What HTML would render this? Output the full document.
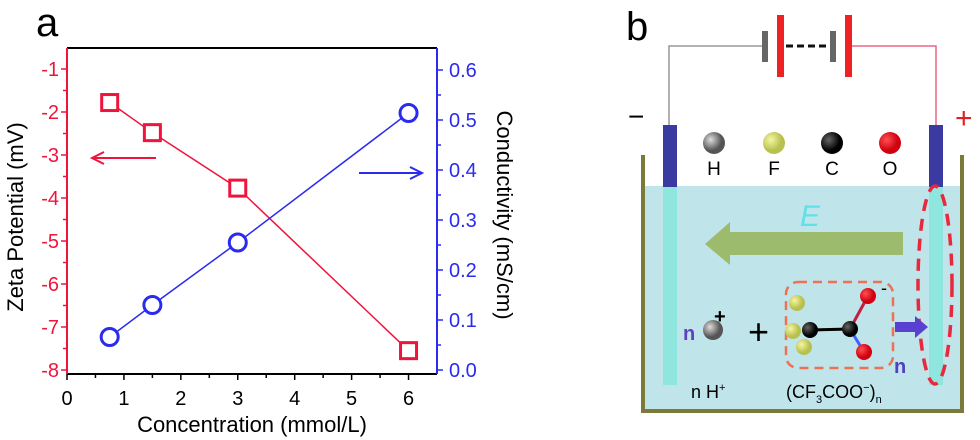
<!DOCTYPE html>
<html><head><meta charset="utf-8"><style>
html,body{margin:0;padding:0;background:#fff;}
svg{display:block;font-family:"Liberation Sans",sans-serif;}
</style></head><body>
<svg width="980" height="440" viewBox="0 0 980 440" xmlns="http://www.w3.org/2000/svg">
<defs>
<radialGradient id="gH" cx="35%" cy="35%"><stop offset="0" stop-color="#ddd"/><stop offset="1" stop-color="#555"/></radialGradient>
<radialGradient id="gF" cx="35%" cy="35%"><stop offset="0" stop-color="#f4f7a0"/><stop offset="1" stop-color="#b8c050"/></radialGradient>
<radialGradient id="gC" cx="35%" cy="35%"><stop offset="0" stop-color="#666"/><stop offset="1" stop-color="#000"/></radialGradient>
<radialGradient id="gO" cx="35%" cy="35%"><stop offset="0" stop-color="#ff5050"/><stop offset="1" stop-color="#d00010"/></radialGradient>
</defs>
<text x="36" y="36" font-size="40" fill="#000">a</text>
<g id="chart"></g>

<g>
<text x="626" y="40" font-size="40" fill="#000">b</text>
<rect x="645" y="186" width="316" height="225" fill="#bfe4ea"/>
<path d="M643 155 V411 H962 V155" fill="none" stroke="#7c7a38" stroke-width="4"/>
<polyline points="669,125 669,46 762,46" fill="none" stroke="#999" stroke-width="1.5"/>
<polyline points="852,46 936,46 936,125" fill="none" stroke="#ee6688" stroke-width="1.5"/>
<rect x="762" y="31" width="6" height="31" fill="#666"/>
<rect x="777" y="15" width="7" height="62" fill="#ee2222"/>
<line x1="786" y1="46" x2="830" y2="46" stroke="#111" stroke-width="3" stroke-dasharray="7,4"/>
<rect x="830" y="31" width="6" height="31" fill="#666"/>
<rect x="845" y="15" width="7" height="62" fill="#ee2222"/>
<rect x="663" y="125" width="14" height="62" fill="#3a3aa0"/>
<rect x="663" y="187" width="14" height="198" fill="#8ee6de"/>
<rect x="929" y="125" width="14" height="62" fill="#3a3aa0"/>
<rect x="929" y="187" width="14" height="198" fill="#8ee6de"/>
<text x="628" y="126" font-size="28" fill="#000">−</text>
<text x="955" y="128" font-size="30" fill="#e02020">+</text>
<circle cx="714" cy="143" r="11" fill="url(#gH)"/>
<circle cx="774" cy="143" r="11" fill="url(#gF)"/>
<circle cx="832" cy="143" r="11" fill="url(#gC)"/>
<circle cx="890" cy="143" r="11" fill="url(#gO)"/>
<text x="714" y="175" font-size="19" text-anchor="middle">H</text>
<text x="774" y="175" font-size="19" text-anchor="middle">F</text>
<text x="832" y="175" font-size="19" text-anchor="middle">C</text>
<text x="890" y="175" font-size="19" text-anchor="middle">O</text>
<polygon points="903,232 730,232 730,222 705,244 730,265 730,255 903,255" fill="#9cbb6c"/>
<text x="800" y="226" font-size="30" font-style="italic" fill="#60e0e8">E</text>
<ellipse cx="935" cy="285" rx="17" ry="99" fill="none" stroke="#e8283c" stroke-width="3.5" stroke-dasharray="12,8"/>
<text x="683" y="340" font-size="20" font-weight="bold" fill="#6040c0">n</text>
<circle cx="713" cy="330" r="10" fill="url(#gH)"/>
<text x="714" y="323" font-size="20" font-weight="bold" fill="#000">+</text>
<text x="748" y="344" font-size="36" fill="#000">+</text>
<rect x="786" y="282" width="107" height="86" rx="12" fill="none" stroke="#ee7055" stroke-width="2.5" stroke-dasharray="9,6"/>
<line x1="810" y1="330" x2="850" y2="329" stroke="#000" stroke-width="3"/>
<line x1="850" y1="329" x2="868" y2="296" stroke="#c02040" stroke-width="3"/>
<line x1="850" y1="329" x2="864" y2="352" stroke="#4060ff" stroke-width="3"/>
<circle cx="797" cy="303" r="8" fill="url(#gF)"/>
<circle cx="793" cy="331" r="8" fill="url(#gF)"/>
<circle cx="804" cy="347" r="8" fill="url(#gF)"/>
<circle cx="810" cy="330" r="8" fill="url(#gC)"/>
<circle cx="850" cy="329" r="8" fill="url(#gC)"/>
<circle cx="868" cy="296" r="8" fill="url(#gO)"/>
<circle cx="864" cy="352" r="8" fill="url(#gO)"/>
<text x="881" y="294" font-size="18" fill="#000">-</text>
<text x="894" y="373" font-size="20" font-weight="bold" fill="#5040c0">n</text>
<polygon points="895,322 915,322 915,316 928,327 915,338 915,332 895,332" fill="#5a40d0"/>
<text x="691" y="398" font-size="18" fill="#000">n H<tspan font-size="11" dy="-7">+</tspan></text>
<text x="786" y="398" font-size="18" fill="#000">(CF<tspan font-size="11" dy="5">3</tspan><tspan dy="-5">COO</tspan><tspan font-size="11" dy="-7">−</tspan><tspan dy="7">)</tspan><tspan font-size="11" dy="5">n</tspan></text>
</g>
</svg>
<script>
const xVals = [0.75, 1.5, 3, 6];
const zetaVals = [-1.78, -2.48, -3.77, -7.55];
const condVals = [0.066, 0.13, 0.255, 0.514];
const xTicks = [0, 1, 2, 3, 4, 5, 6];
const leftTicks = [-1, -2, -3, -4, -5, -6, -7, -8];
const rightTicks = [0.0, 0.1, 0.2, 0.3, 0.4, 0.5, 0.6];

const NS = "http://www.w3.org/2000/svg";
const g = document.getElementById("chart");
const L = 67, R = 437, T = 48, B = 374;
const xS = v => L + (v - 0) / 6.5 * (R - L);
const yL = v => 69 + (-1 - v) * 43;
const yR = v => 370 - v * 500;
const RED = "#f0143c", BLUE = "#2b2bf0";
function mk(tag, attrs, parent) {
  const e = document.createElementNS(NS, tag);
  for (const k in attrs) e.setAttribute(k, attrs[k]);
  (parent || g).appendChild(e);
  return e;
}
let e;
e = mk("line", {x1: L, y1: T, x2: R, y2: T, stroke: "#000", "stroke-width": 2});


e = mk("line", {x1: L, y1: B, x2: R, y2: B, stroke: "#000", "stroke-width": 2});


e = mk("line", {x1: L, y1: T, x2: L, y2: B, stroke: RED, "stroke-width": 2});


e = mk("line", {x1: R, y1: T, x2: R, y2: B, stroke: BLUE, "stroke-width": 2});



for (let i = 0; i < xTicks.length; i++) {
  const v = xTicks[i], x = xS(v);
  e = mk("line", {x1: x, y1: B, x2: x, y2: B + 6, stroke: "#000", "stroke-width": 1.5});
  
  
  const xm = xS(v + 0.5);
  if (xm < R) { e = mk("line", {x1: xm, y1: B, x2: xm, y2: B + 4, stroke: "#000", "stroke-width": 1.5});
    
     }
  e = mk("text", {x: x, y: 405, "font-size": 20, "text-anchor": "middle", fill: "#000"});
  e.textContent = v;
  
  
}
for (let i = 0; i < leftTicks.length; i++) {
  const v = leftTicks[i], y = yL(v);
  e = mk("line", {x1: L - 6, y1: y, x2: L, y2: y, stroke: RED, "stroke-width": 1.5});
  
  
  const ym = yL(v + 0.5);
  if (ym > T) { e = mk("line", {x1: L - 4, y1: ym, x2: L, y2: ym, stroke: RED, "stroke-width": 1.5});
    
     }
  e = mk("text", {x: L - 8, y: y + 7, "font-size": 20, "text-anchor": "end", fill: RED});
  e.textContent = v;
  
  
}
for (let i = 0; i < rightTicks.length; i++) {
  const v = rightTicks[i], y = yR(v);
  e = mk("line", {x1: R, y1: y, x2: R + 6, y2: y, stroke: BLUE, "stroke-width": 1.5});
  
  
  const ym = yR(v + 0.05);
  if (ym > T) { e = mk("line", {x1: R, y1: ym, x2: R + 4, y2: ym, stroke: BLUE, "stroke-width": 1.5});
    
     }
  e = mk("text", {x: R + 12, y: y + 7, "font-size": 20, fill: BLUE});
  e.textContent = v.toFixed(1);
  
  
}
e = mk("text", {x: 252, y: 432, "font-size": 22, "text-anchor": "middle", fill: "#000"});
e.textContent = "Concentration (mmol/L)";


e = mk("text", {x: 0, y: 0, "font-size": 22, "text-anchor": "middle", fill: "#000", transform: "translate(23,217) rotate(-90)"});
e.textContent = "Zeta Potential (mV)";


e = mk("text", {x: 0, y: 0, "font-size": 22, "text-anchor": "middle", fill: "#000", transform: "translate(497,215) rotate(90)"});
e.textContent = "Conductivity (mS/cm)";



e = mk("polyline", {points: xVals.map((v, i) => xS(v) + "," + yL(zetaVals[i])).join(" "), fill: "none", stroke: RED, "stroke-width": 1.5});


e = mk("polyline", {points: xVals.map((v, i) => xS(v) + "," + yR(condVals[i])).join(" "), fill: "none", stroke: BLUE, "stroke-width": 1.5});


for (let i = 0; i < xVals.length; i++) {
  e = mk("rect", {x: xS(xVals[i]) - 8, y: yL(zetaVals[i]) - 8, width: 16, height: 16, fill: "#fff", stroke: RED, "stroke-width": 3});
  
  
  e = mk("circle", {cx: xS(xVals[i]), cy: yR(condVals[i]), r: 8.5, fill: "#fff", stroke: BLUE, "stroke-width": 3});
  
  
}
e = mk("path", {d: "M156 158 H94 M104 152 L92 158 L104 164", fill: "none", stroke: RED, "stroke-width": 2});


e = mk("path", {d: "M359 173 H421 M410 167 L422 173 L410 179", fill: "none", stroke: BLUE, "stroke-width": 2});


</script>
</body></html>
